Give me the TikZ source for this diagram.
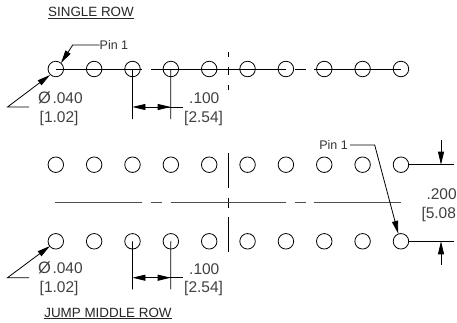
\documentclass[tikz,border=0pt]{standalone}
\usepackage{fontspec}
\setmainfont{Liberation Sans}
\usetikzlibrary{arrows.meta}
\tikzset{
 pin/.style={circle, draw=black, line width=.8, minimum size=15.5, inner sep=0},
 dimtext/.style={text=black!75, font=\fontsize{15.5}{17}\selectfont, inner sep=0},
 pintext/.style={text=black!80, font=\fontsize{12.5}{14}\selectfont, inner sep=0},
 headtext/.style={text=black!85, font=\fontsize{13.4}{15}\selectfont, inner sep=0},
 leader/.style={black, line width=.8, ->, >={Stealth[length=13,width=6,inset=0]}},
 extline/.style={black, line width=.8},
 centerline/.style={black!70, line width=1.1}
}
\newcommand{\dia}{{\fontsize{16.5}{17}\selectfont Ø}\hspace{1.5pt}.040}

\begin{document}
\begin{tikzpicture} [x=1pt,y=-1pt]
\useasboundingbox (0,0) rectangle (457,322);
\foreach \i [evaluate=\i as \xi using 55.8+38.35*(\i-1)] in {1,...,10} {
 \node[pin] (top\i) at (\xi,69) {};
 \node[pin] (mid\i) at (\xi,164.7) {};
 \node[pin] (low\i) at (\xi,241.3) {};
}
% row headings
\node[headtext] (single) at (91,13) {\underline{SINGLE ROW}};
\node[headtext] (jump) at (108,313.5) {\underline{JUMP MIDDLE ROW}};
% center lines
\draw[extline] (top1.center) -- ++(86,0) (151,69) -- (top7.center) (295.3,69) -- (305.7,69) (314.3,69) -- (top10.center);
\foreach \a/\b in {52/57,67/75,85/90,153/188,198/208,217/252} {
 \draw[extline] (228.6,\a) -- (228.6,\b);
}
\draw[centerline] (55,202.7) -- (141.7,202.7) (151,202.7) -- (161.7,202.7) (170.7,202.7) -- (286,202.7) (295.3,202.7) -- (305.7,202.7) (314.3,202.7) -- (401,202.7);
% top pin 1 and diameter
\node[pintext, anchor=west] (pina) at (99.5,45) {Pin 1};
\draw[leader] (pina.west) -- (72.7,45) -- (61,63);
\coordinate (holea) at (7.5,107);
\draw[leader] (29,107) -- (holea) -- (50,75);
\node[dimtext, anchor=west] (dia) at (38,98) {\dia};
\node[dimtext, anchor=west] (diamm) at (39.5,118) {[1.02]};
\node[dimtext, anchor=west] (pitch) at (189,98) {.100};
\node[dimtext, anchor=west] (pitchmm) at (184,118) {[2.54]};
\coordinate (dima) at (132.4,107);
\coordinate (dimb) at (170.7,107);
\coordinate (dimend) at (183,107);
\draw[extline] (top3.center) -- (132.4,119);
\draw[extline] (top4.center) -- (170.7,119);
\draw[leader] (dimb) -- (dima);
\draw[leader] (dimend) ++(-26,0) -- (dimb);
\draw[extline] (dimb) -- (dimend);
% bottom diameter
\coordinate (holeb) at (7.5,277.7);
\draw[leader] (29,277.7) -- (holeb) -- (50,246);
\node[dimtext, anchor=west] (dib) at (38,268) {\dia};
\node[dimtext, anchor=west] (dibmm) at (39.5,288) {[1.02]};
\node[dimtext, anchor=west] (pitchb) at (189,269) {.100};
\node[dimtext, anchor=west] (pitchbmm) at (184,288) {[2.54]};
\coordinate (dimc) at (132.4,277.7);
\coordinate (dimd) at (170.7,277.7);
\coordinate (dimendb) at (183,277.7);
\draw[extline] (low3.center) -- (132.4,289.3);
\draw[extline] (low4.center) -- (170.7,289.3);
\draw[leader] (dimd) -- (dimc);
\draw[leader] (dimendb) ++(-26,0) -- (dimd);
\draw[extline] (dimd) -- (dimendb);
% right pin 1 and row spacing
\node[pintext, anchor=east] (pinb) at (348,145) {Pin 1};
\draw[leader] (pinb.east) ++(2,0) -- (374.7,145) -- (398.3,233.8);
\draw[extline] (mid10.east) -- (453.7,164.7);
\draw[extline] (low10.east) -- (453.7,241.3);
\draw[leader] (441,140) -- (441,164.7);
\draw[leader] (441,265.3) -- (441,241.3);
\node[dimtext, anchor=west] (span) at (426.3,194) {.200};
\node[dimtext, anchor=west] (spanmm) at (421.3,214) {[5.08};
\end{tikzpicture}
\end{document}
